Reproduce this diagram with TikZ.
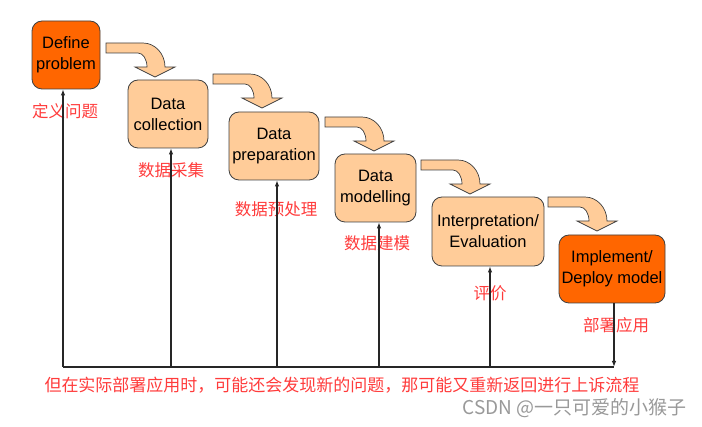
\documentclass[tikz,border=0pt]{standalone}
\usepackage{fontspec}
\setmainfont{Liberation Sans}
\newfontfamily\cjk{Noto Sans CJK SC}
\usetikzlibrary{arrows.meta}
\definecolor{lightor}{HTML}{FFCC99}
\definecolor{darkor}{HTML}{FF6600}
\definecolor{lblred}{HTML}{FF3B3B}
\definecolor{edgegray}{HTML}{404040}
\newcommand\bentarrow[2]{%
  \filldraw[bent,shift={(#1,#2)}] (0,0) -- (37,0)
    .. controls (49.1,0) and (59,10.8) .. (59,24)
    -- (69,24) -- (49,34) -- (29,24) -- (41,24)
    .. controls (41,16.3) and (37,10) .. (32,10)
    -- (0,10) -- cycle;}
\begin{document}
\begin{tikzpicture}[x=1pt,y=-1pt,
  box/.style={draw=edgegray,line width=0.8pt,rounded corners=10pt,fill=lightor,
    align=center,font=\fontsize{16.5}{21}\selectfont,inner sep=0pt},
  hot/.style={box,fill=darkor},
  bent/.style={fill=lightor,draw=edgegray,line width=0.7pt,line join=miter},
  lbl/.style={text=lblred,font=\cjk\fontsize{16.5}{20}\selectfont,inner sep=0pt},
  fb/.style={draw=black!85,line width=1.1pt,-{Latex[length=6pt,width=4.5pt]}},
  fbl/.style={draw=black!85,line width=1.1pt}]
\useasboundingbox (0,0) rectangle (702,427);

\node[hot,minimum width=68pt,minimum height=68pt] (b1) at (66,55) {Define\\problem};
\node[box,minimum width=80pt,minimum height=68pt] (b2) at (168,114) {Data\\collection};
\node[box,minimum width=90pt,minimum height=68pt] (b3) at (274,146) {Data\\preparation};
\node[box,minimum width=81pt,minimum height=68pt] (b4) at (375.5,188) {Data\\modelling};
\node[box,minimum width=112pt,minimum height=69pt] (b5) at (488,231.5) {Interpretation/\\Evaluation};
\node[hot,minimum width=106pt,minimum height=68pt] (b6) at (612,269) {Implement/\\Deploy model};

\bentarrow{106}{43}
\bentarrow{213}{74}
\bentarrow{325}{117}
\bentarrow{421}{160}
\bentarrow{548}{197}

\node[lbl] (l1) at (65,111) {定义问题};
\node[lbl] (l2) at (171,170) {数据采集};
\node[lbl] (l3) at (276,209) {数据预处理};
\node[lbl] (l4) at (377,243) {数据建模};
\node[lbl] (l5) at (490,293) {评价};
\node[lbl] (l6) at (616,325) {部署应用};

\coordinate (f1) at (63,367);
\coordinate (f2) at (171,367);
\coordinate (f3) at (277,367);
\coordinate (f4) at (379,367);
\coordinate (f5) at (490,367);
\coordinate (f6) at (614,367);

\draw[fbl] (f1) -- (f6);
\draw[fb] (f1) -- (f1 |- b1.south);
\draw[fb] (f2) -- (f2 |- b2.south);
\draw[fb] (f3) -- (f3 |- b3.south);
\draw[fb] (f4) -- (f4 |- b4.south);
\draw[fb] (f5) -- (f5 |- b5.south);
\draw[fb] (f6 |- b6.south) -- (f6);

\node[lbl,font=\cjk\fontsize{17}{20}\selectfont] (note) at (342,385)
  {但在实际部署应用时，可能还会发现新的问题，那可能又重新返回进行上诉流程};
\node[text=black!40,font=\cjk\fontsize{19}{22}\selectfont,inner sep=0pt] (wm) at (574.5,408)
  {CSDN @一只可爱的小猴子};
\end{tikzpicture}
\end{document}
